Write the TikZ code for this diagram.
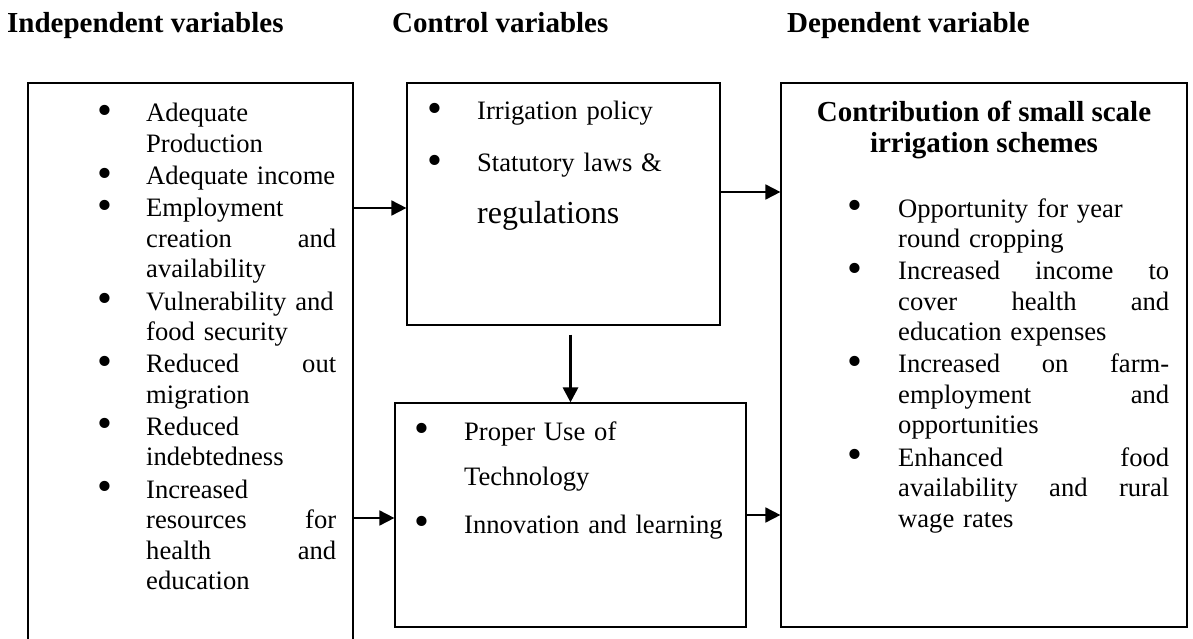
\documentclass[tikz,border=0pt]{standalone}
\usepackage{fontspec}
\setmainfont{Liberation Serif}
\usetikzlibrary{arrows.meta}
% bullet list: #1 = bullet-to-text indent, #2 = extra space between items
\newenvironment{blist}[2]{%
  \list{\hspace*{-3pt}\raisebox{-2.5pt}{\scalebox{1.6}{\textbullet}}}{%
    \setlength\leftmargin{#1}\setlength\labelsep{0pt}%
    \setlength\labelwidth{#1}\setlength\itemsep{#2}\setlength\parsep{0pt}%
    \setlength\topsep{0pt}\setlength\partopsep{0pt}\setlength\itemindent{0pt}%
    \def\makelabel##1{##1\hfil}}\hyphenpenalty=10000 \exhyphenpenalty=10000 }{\endlist}
\begin{document}
\begin{tikzpicture}[x=1pt,y=-1pt,
    box/.style={draw,line width=1.2pt,inner sep=0pt},
    head/.style={anchor=base west,inner sep=0pt,font=\fontsize{29}{31}\selectfont\bfseries},
    txt/.style={anchor=base west,inner sep=0pt,font=\fontsize{26.6}{#1}\selectfont},
    arr/.style={-{Triangle[length=15pt,width=15pt]},line width=1.8pt}]
  \useasboundingbox (0,0) rectangle (1193,639);
  % headings
  \node[head] (hind) at (7,33) {Independent variables};
  \node[head] (hcon) at (392,33) {Control variables};
  \node[head] (hdep) at (787,33) {Dependent variable};
  % boxes
  \node[box,minimum width=325pt,minimum height=562pt] (lbox) at (190.5,364) {};
  \node[box,minimum width=313pt,minimum height=242pt] (cbox) at (563.5,204) {};
  \node[box,minimum width=351pt,minimum height=224pt] (tbox) at (570.5,515) {};
  \node[box,minimum width=406pt,minimum height=544pt] (rbox) at (984,355) {};
  % independent variables
  \node[txt=30.5pt,text width=236pt] (lind) at (100,91.5) {%
    \begin{blist}{46pt}{1.7pt}
    \item Adequate\\ Production
    \item Adequate~income
    \item Employment\\ creation\nobreak\hfill and\\ availability
    \item Vulnerability~and\\ food~security
    \item Reduced\nobreak\hfill out\\ migration
    \item Reduced\\ indebtedness
    \item Increased\\ resources\nobreak\hfill for\\ health\nobreak\hfill and\\ education
    \end{blist}};
  % control variables
  \node[txt=51.5pt,text width=290pt] (lcon) at (430,68.5) {%
    \begin{blist}{47pt}{0.5pt}
    \item Irrigation~policy
    \item Statutory~laws~\&\\ {\fontsize{32}{51.5}\selectfont regulations}
    \end{blist}};
  \node[txt=45pt,text width=320pt] (ltec) at (417,395) {%
    \begin{blist}{47pt}{3pt}
    \item Proper~Use~of\\ Technology
    \item Innovation~and~learning
    \end{blist}};
  % dependent variable
  \node[anchor=base,inner sep=0pt,align=center,font=\fontsize{29}{31}\selectfont\bfseries]
    (tdep) at (984,153) {Contribution of small scale\\ irrigation schemes};
  \node[txt=30.5pt,text width=319pt] (ldep) at (850,186.5) {%
    \begin{blist}{48pt}{1.7pt}
    \item Opportunity~for~year\\ round~cropping
    \item Increased\nobreak\hfill income\nobreak\hfill to\\ cover\nobreak\hfill health\nobreak\hfill and\\ education~expenses
    \item Increased\nobreak\hfill on\nobreak\hfill farm-\\ employment\nobreak\hfill and\\ opportunities
    \item Enhanced\nobreak\hfill food\\ availability\nobreak\hfill and\nobreak\hfill rural\\ wage~rates
    \end{blist}};
  % arrows
  \coordinate (a1) at ([yshift=-4pt]cbox.west);
  \coordinate (a2) at ([yshift=12pt]cbox.east);
  \coordinate (a3) at ([yshift=-3pt]tbox.west);
  \draw[arr] (a1 -| lbox.east) -- (a1);
  \draw[arr] (a2) -- (a2 -| rbox.west);
  \draw[arr] (a3 -| lbox.east) -- (a3);
  \draw[arr] (tbox.east) -- (tbox.east -| rbox.west);
  \draw[arr,line width=3pt] (tbox.north |- cbox.south) ++(0,9) -- (tbox.north);
\end{tikzpicture}
\end{document}
